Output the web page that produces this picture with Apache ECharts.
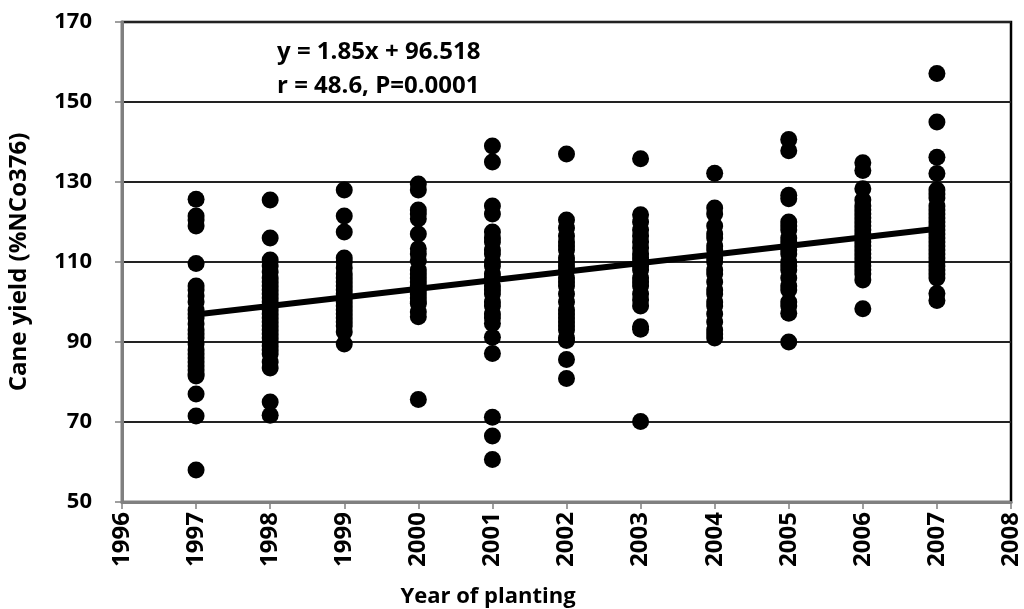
<!DOCTYPE html>
<html>
<head>
<meta charset="utf-8">
<script src="https://cdn.jsdelivr.net/npm/echarts@6/dist/echarts.min.js"></script>
<style>html,body{margin:0;padding:0;background:#fff}#c{width:1024px;height:609px}</style>
</head>
<body>
<div id="c"></div>
<script>
const years = [1997, 1998, 1999, 2000, 2001, 2002, 2003, 2004, 2005, 2006, 2007];
const y1997 = [125.7, 121.5, 120.5, 119, 109.6, 104, 103, 101.5, 100, 98, 97, 96, 94.5, 93, 92, 91, 89.5, 88, 87, 86, 85, 84, 83, 82, 81.5, 77, 71.5, 58];
const y1998 = [125.5, 116, 110.5, 109, 107.5, 106, 105, 104, 103, 102, 101, 100, 99, 98, 97, 96, 95, 94, 93, 92, 91, 90, 89, 88, 87, 85, 83.5, 75, 71.7];
const y1999 = [128, 121.5, 117.5, 111, 110, 108.5, 107, 106, 105, 104, 103, 102, 101, 100, 99, 98, 97, 96, 95, 94, 92.5, 89.5];
const y2000 = [129.5, 128, 123, 122, 120.8, 117, 113.3, 112, 110.4, 108, 107, 106, 105, 104, 103, 102, 101, 100, 99.6, 97.5, 96.3, 75.6];
const y2001 = [139, 135, 124, 122, 117.5, 116, 115, 113, 112, 110, 109, 107, 106, 104, 103, 102, 100, 99, 97, 96, 94.6, 91.2, 87.1, 71.2, 66.5, 60.6];
const y2002 = [137, 120.5, 118.5, 116.5, 115, 114, 113, 111, 110, 109, 108, 106, 105, 104, 102, 100, 98, 97, 96, 95, 94, 93, 91, 90.4, 85.6, 80.9];
const y2003 = [135.8, 121.8, 120, 118, 116.5, 115, 113.5, 112, 111, 110, 109, 108, 106, 105, 104, 102, 100.5, 99, 93.8, 93.2, 70.1];
const y2004 = [132.2, 123.5, 122, 119, 117, 116, 114, 113, 111, 110, 108, 107, 105, 103, 102, 100, 99, 97, 95, 93, 92, 91];
const y2005 = [140.6, 137.8, 126.7, 125.8, 120, 119, 118, 116, 115, 114, 113, 112, 110, 109, 108, 106, 104, 103, 100, 99, 97.2, 90];
const y2006 = [134.8, 132.9, 128.3, 125.5, 124, 123, 122, 121, 120, 119, 118, 117, 116, 115, 114, 113, 112, 111, 110, 109, 108, 107, 105.5, 98.3];
const y2007 = [157.1, 145, 136.2, 132.1, 128, 127, 126, 124, 123, 122, 121, 120, 119, 118, 117, 116, 115, 114, 113, 112, 111, 110, 109, 108, 107, 106, 102.1, 100.4];
const trendX = [1997, 2007];
const trendY = [96.9, 118.3];
const yTicks = [50, 70, 90, 110, 130, 150, 170];
const xTicks = [1996, 1997, 1998, 1999, 2000, 2001, 2002, 2003, 2004, 2005, 2006, 2007, 2008];
const xTitle = 'Year of planting';
const yTitle = 'Cane yield (%NCo376)';
const equationText = 'y = 1.85x + 96.518';
const statText = 'r = 48.6, P=0.0001';

const byYear = [y1997, y1998, y1999, y2000, y2001, y2002, y2003, y2004, y2005, y2006, y2007];
const points = [];
years.forEach((yr, i) => byYear[i].forEach(v => points.push([yr, v])));
const trend = trendX.map((x, i) => [x, trendY[i]]);

const FONT = 'Open Sans';
const chart = echarts.init(document.getElementById('c'), null, {renderer: 'canvas'});
chart.setOption({
  animation: false,
  backgroundColor: '#fff',
  grid: {left: 122, right: 13, top: 22, bottom: 107, containLabel: false, outerBoundsMode: 'none',
    show: true, borderColor: '#000', borderWidth: 2.5, backgroundColor: 'transparent'},
  xAxis: {
    type: 'value', min: xTicks[0], max: xTicks[xTicks.length - 1], interval: 1,
    axisLine: {show: true, lineStyle: {color: '#808080', width: 3}},
    axisTick: {show: true, inside: false, length: 7, lineStyle: {color: '#808080', width: 1.5}},
    axisLabel: {rotate: 90, margin: 10, fontFamily: FONT, fontWeight: 'bold', fontSize: 24, color: '#000',
      hideOverlap: false, formatter: v => String(v)},
    splitLine: {show: false}
  },
  yAxis: {
    type: 'value', min: yTicks[0], max: yTicks[yTicks.length - 1], interval: 20,
    name: yTitle, nameLocation: 'middle', nameGap: 91, nameRotate: 90,
    nameTextStyle: {fontFamily: FONT, fontWeight: 'bold', fontSize: 24, color: '#000'},
    axisLine: {show: true, lineStyle: {color: '#808080', width: 3}},
    axisTick: {show: true, inside: false, length: 7, lineStyle: {color: '#808080', width: 1.5}},
    axisLabel: {margin: 30, fontFamily: FONT, fontWeight: 'bold', fontSize: 22, color: '#000'},
    splitLine: {show: true, lineStyle: {color: '#222', width: 2}}
  },
  graphic: [
    {type: 'text', x: 488, y: 597, style: {text: xTitle, font: 'bold 22px "Open Sans"', fill: '#000', align: 'center', verticalAlign: 'middle'}},
    {type: 'text', x: 277, y: 52, style: {text: equationText, font: 'bold 24px "Open Sans"', fill: '#000', verticalAlign: 'middle'}},
    {type: 'text', x: 277, y: 86, style: {text: statText, font: 'bold 24px "Open Sans"', fill: '#000', verticalAlign: 'middle'}}
  ],
  series: [
    {type: 'scatter', data: points, symbol: 'circle', symbolSize: 17, itemStyle: {color: '#000', opacity: 1}, z: 3},
    {type: 'line', data: trend, symbol: 'none', lineStyle: {color: '#000', width: 6}, z: 4}
  ]
});
</script>
</body>
</html>
